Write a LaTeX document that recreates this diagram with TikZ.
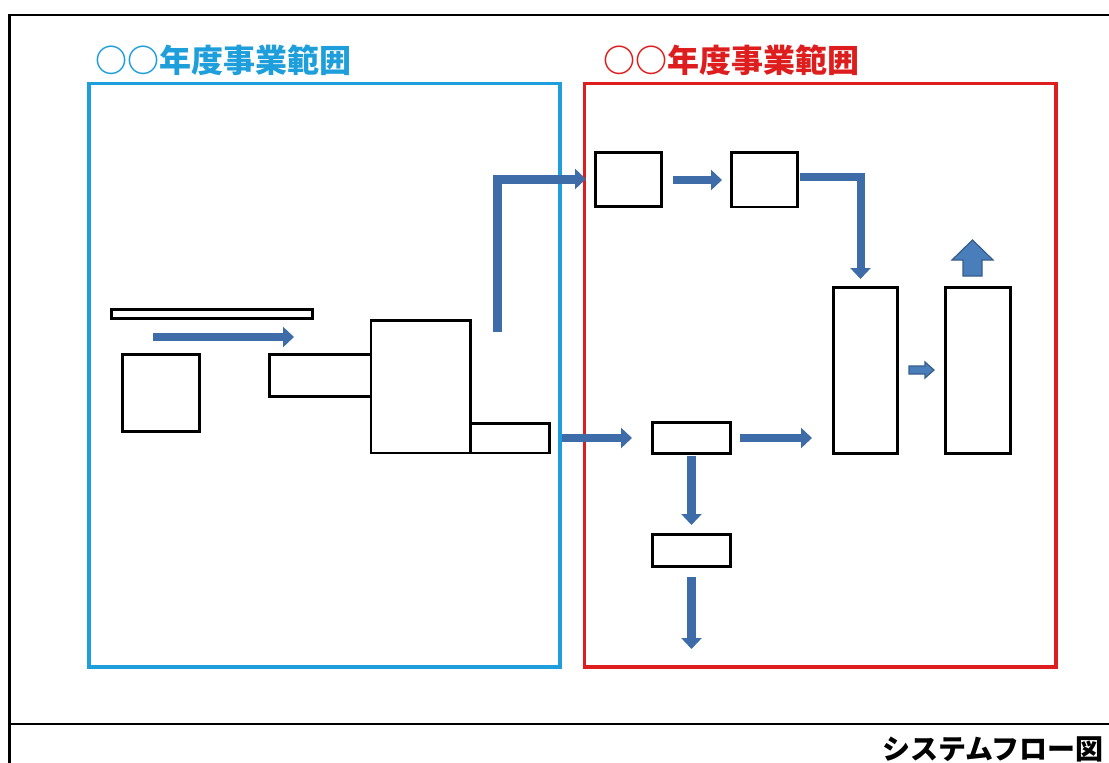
\documentclass[tikz,border=0pt]{standalone}
\usepackage{fontspec}
\newfontfamily\jp{Noto Sans CJK JP}
\usetikzlibrary{arrows.meta,fit}
\definecolor{regblue}{RGB}{30,158,218}
\definecolor{regred}{RGB}{222,30,30}
\definecolor{flowblue}{RGB}{62,108,168}
\definecolor{blkfill}{RGB}{74,126,187}
\definecolor{blkline}{RGB}{56,93,138}
\tikzset{
  box/.style={draw=black, line width=2.6pt, inner sep=0pt, outer sep=0pt, fill=white},
  region/.style={line width=3.2pt, inner sep=0pt, outer sep=0pt},
  title/.style={anchor=base west, inner sep=0pt, font=\jp\bfseries\fontsize{32pt}{36pt}\selectfont},
  flow/.style={draw=flowblue, line width=8pt, line join=miter, -{Triangle[length=11pt,width=20pt]}},
  blockarrow/.style={fill=blkfill, draw=blkline, line width=1.2pt, line join=miter}
}
\begin{document}
\begin{tikzpicture}[x=1pt,y=-1pt]
\useasboundingbox (0,0) rectangle (1109,763);
\fill[white] (0,0) rectangle (1109,763);
% outer frame
\draw[line width=2.4pt] (1115,15) -- (9.5,15) -- (9.5,770);
\draw[line width=2.4pt] (9.5,724) -- (1115,724);
% regions
\node[region, draw=regblue, fit={(89,83.5)(560,667)}] (regA) {};
\node[region, draw=regred, fit={(584.5,83.5)(1056,667)}] (regB) {};
\node[title, text=regblue] (titleA) at (95,72) {○○年度事業範囲};
\node[title, text=regred] (titleB) at (603,72) {○○年度事業範囲};
% footer
\node[anchor=base east, inner sep=0pt, font=\jp\bfseries\fontsize{28pt}{32pt}\selectfont] (footer) at (1104,759.5) {システムフロー図};
% boxes
\node[box, fit={(111.5,309.5)(312.5,318.5)}] (bar) {};
\node[box, fit={(122.5,354.5)(199.5,431.5)}] (sq) {};
\node[box, fit={(269.5,354.5)(371,396.5)}] (A) {};
\node[box, fit={(371,320.5)(470.5,453)}] (B) {};
\node[box, fit={(470.5,423.5)(549.5,453)}] (C) {};
\node[box, fit={(595.5,152.5)(661.5,206.5)}] (b1) {};
\node[box, fit={(731.5,152.5)(797.5,207)}] (b2) {};
\node[box, fit={(652.5,422.5)(730.5,453.5)}] (mid) {};
\node[box, fit={(652.5,534.5)(730.5,566.5)}] (low) {};
\node[box, fit={(833.5,287.5)(897.5,453.5)}] (t1) {};
\node[box, fit={(945.5,287.5)(1010.5,453.5)}] (t2) {};
% arrow end points
\coordinate (h1s) at (153,337);
\coordinate (h1e) at (294,337);
\coordinate (Ls) at (497.5,332);
\coordinate (Lc) at (497.5,179);
\coordinate (Le) at (586,179);
\coordinate (e12s) at (673,180);
\coordinate (e12e) at (722,180);
\coordinate (e2s) at (800,177);
\coordinate (e2c) at (860.5,177);
\coordinate (e2e) at (860.5,279);
\coordinate (cms) at (562,438);
\coordinate (cme) at (632,438);
\coordinate (mts) at (740,438);
\coordinate (mte) at (812,438);
\coordinate (mds) at (691.5,456);
\coordinate (mde) at (691.5,525);
\coordinate (lds) at (691.5,577);
\coordinate (lde) at (691.5,649);
% flow arrows
\draw[flow] (h1s) -- (h1e);
\draw[flow, line width=9pt] (Ls) -- (Lc) -- (Le);
\draw[flow] (e12s) -- (e12e);
\draw[flow] (e2s) -- (e2c) -- (e2e);
\draw[flow] (cms) -- (cme);
\draw[flow] (mts) -- (mte);
\draw[flow, line width=9pt] (mds) -- (mde);
\draw[flow, line width=9pt] (lds) -- (lde);
% block arrows
\draw[blockarrow] (909,366) -- (925,366) -- (925,362) -- (934,370) -- (925,378) -- (925,374) -- (909,374) -- cycle;
\draw[blockarrow] (963,276) -- (963,260) -- (952,260) -- (972.5,240) -- (993,260) -- (982,260) -- (982,276) -- cycle;
\end{tikzpicture}
\end{document}
